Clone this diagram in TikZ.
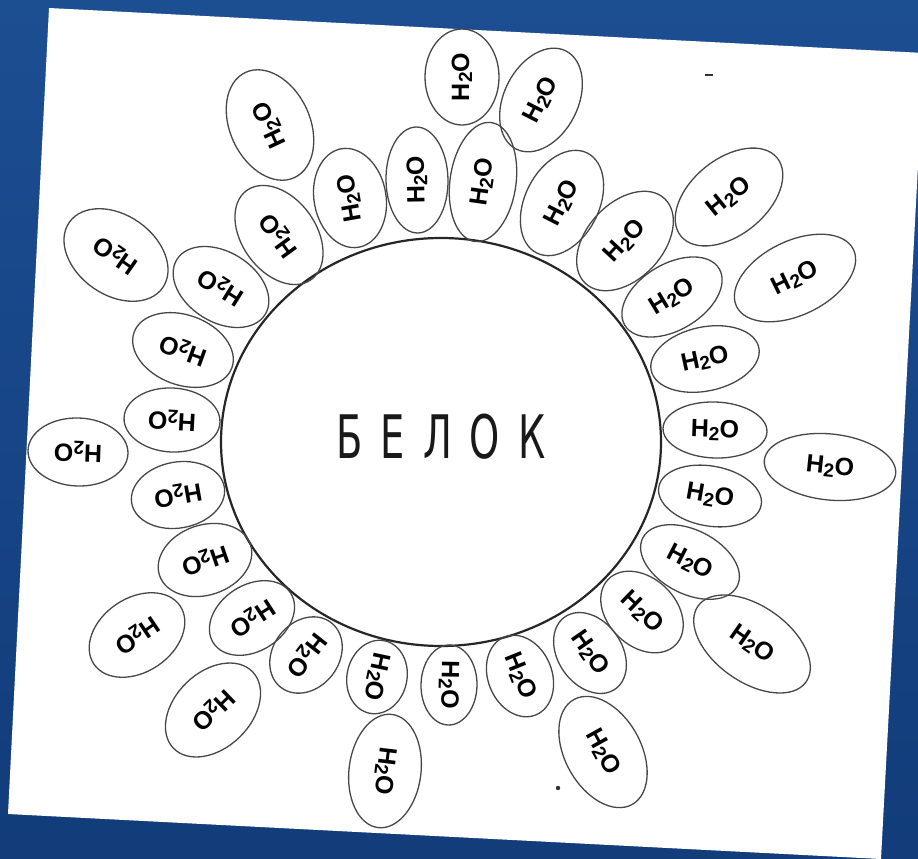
\documentclass[tikz,border=0pt]{standalone}
\usepackage{fontspec}
\usetikzlibrary{shapes.geometric}
\newfontfamily\molfont{Liberation Sans}
\newfontfamily\belokfont{DejaVu Sans}
\definecolor{bgblue}{RGB}{28,78,146}
\definecolor{bgdark}{RGB}{18,60,122}
\newcommand{\watertext}{\molfont\bfseries\fontsize{25}{25}\selectfont H\raisebox{-0.12em}{\fontsize{19}{19}\selectfont 2}O}
% name, x, y, angle, width, height
\newcommand{\watermol}[6]{%
  \node[molshape, minimum width=#5pt, minimum height=#6pt, rotate=#4] (#1) at (#2,#3) {\watertext};
}
\tikzset{
  molshape/.style={draw=black!72, line width=1.3pt, ellipse, inner sep=0pt, text=black},
  protein/.style={draw=black!85, line width=2.2pt, ellipse, inner sep=0pt,
    minimum width=440pt, minimum height=408pt, text=black!90}
}
\begin{document}
\begin{tikzpicture}[x=1pt,y=-1pt]
\useasboundingbox (0,0) rectangle (918,859);
\clip (0,0) rectangle (918,859);
% background
\shade[top color=bgblue, bottom color=bgdark] (0,0) rectangle (918,859);
% paper sheet
\fill[white] (49,8) -- (924,53) -- (881,859) -- (8,814) -- cycle;
% protein with its label
\node[protein] (protein) at (441,442)
  {\raisebox{12pt}{\belokfont\fontsize{60}{60}\selectfont\scalebox{0.64}[1]{Б\hspace{28pt}Е\hspace{28pt}Л\hspace{28pt}О\hspace{28pt}К}}};
% water molecules: name, x, y, angle, width, height
\watermol{w1}{462}{77}{90}{96}{74}
\watermol{w2}{541}{100}{63}{110}{74}
\watermol{w3}{483}{182}{82}{120}{66}
\watermol{w4}{417}{180}{91}{106}{62}
\watermol{w5}{350}{198}{100}{100}{72}
\watermol{w6}{270}{125}{115}{116}{80}
\watermol{w7}{279}{235}{126}{110}{74}
\watermol{w8}{116}{255}{145}{114}{80}
\watermol{w9}{221}{287}{148}{104}{70}
\watermol{w10}{183}{350}{160}{104}{70}
\watermol{w11}{172}{420}{177}{96}{64}
\watermol{w12}{78}{452}{178}{100}{68}
\watermol{w13}{178}{495}{190}{94}{66}
\watermol{w14}{205}{560}{199}{96}{70}
\watermol{w15}{137}{635}{214}{104}{74}
\watermol{w16}{252}{618}{213}{92}{66}
\watermol{w17}{213}{710}{224}{110}{76}
\watermol{w18}{306}{655}{232}{82}{66}
\watermol{w19}{377}{677}{258}{74}{60}
\watermol{w20}{385}{771}{263}{114}{72}
\watermol{w21}{449}{685}{269}{80}{56}
\watermol{w22}{520}{676}{292}{84}{64}
\watermol{w23}{590}{653}{305}{88}{64}
\watermol{w24}{603}{752}{299}{120}{76}
\watermol{w25}{642}{612}{316}{94}{68}
\watermol{w26}{752}{644}{325}{132}{76}
\watermol{w27}{690}{562}{333}{106}{64}
\watermol{w28}{710}{496}{350}{104}{60}
\watermol{w29}{830}{467}{354}{132}{66}
\watermol{w30}{715}{430}{358}{104}{56}
\watermol{w31}{705}{359}{12}{110}{64}
\watermol{w32}{795}{278}{26}{130}{74}
\watermol{w33}{672}{297}{31}{110}{66}
\watermol{w34}{729}{197}{39}{124}{76}
\watermol{w35}{625}{241}{47}{116}{76}
\watermol{w36}{562}{203}{63}{112}{74}
% stray pencil marks on the sheet
\draw[line width=2pt, black!80] (705,75) -- (713,75);
\fill[black!80] (558,788) circle (2.2);
\end{tikzpicture}
\end{document}
